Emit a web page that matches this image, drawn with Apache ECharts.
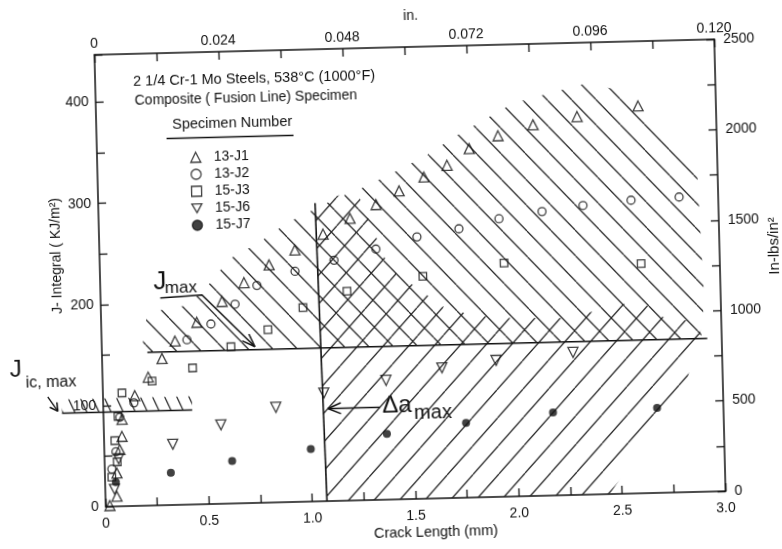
<!DOCTYPE html>
<html><head><meta charset="utf-8">
<script src="https://cdn.jsdelivr.net/npm/echarts@6.0.0/dist/echarts.min.js"></script>
<style>
html,body{margin:0;padding:0;background:#fff;overflow:hidden;width:782px;height:549px}
#chart{width:782px;height:549px;transform:rotate(-1.43deg);transform-origin:410px 273px}
</style></head>
<body><div id="chart"></div>
<script>
// ---- series values: [crack length (mm), J (kJ/m^2)] ----
const s13J1 = [[0.02,1],[0.055,10],[0.058,33],[0.075,56],[0.087,69],[0.089,86],[0.154,109],[0.221,127],[0.290,145],[0.355,162],[0.463,180],[0.587,200],[0.696,218],[0.819,235],[0.946,249],[1.084,264],[1.216,279],[1.344,292],[1.457,305],[1.579,318],[1.692,329],[1.801,345],[1.942,357],[2.113,367],[2.327,374],[2.623,383]];
const s13J2 = [[0.034,37],[0.056,54],[0.079,88],[0.149,102],[0.413,163],[0.531,178],[0.650,197],[0.758,215],[0.944,228],[1.134,238],[1.338,248],[1.538,259],[1.742,266],[1.937,275],[2.146,281],[2.345,286],[2.578,290],[2.811,292]];
const s15J3 = [[0.033,29],[0.061,44],[0.052,65],[0.070,89],[0.092,112],[0.239,123],[0.437,135],[0.625,155],[0.806,171],[0.978,192],[1.193,207],[1.562,220],[1.956,231],[2.619,227]];
const s15J6 = [[0.045,17],[0.068,47],[0.332,60],[0.567,78],[0.835,94],[1.069,107],[1.371,118],[1.643,129],[1.906,135],[2.279,141]];
const s15J7 = [[0.052,24],[0.319,32],[0.617,42],[0.999,52],[1.369,65],[1.753,74],[2.175,82],[2.679,84]];
const seriesNames = ['13-J1','13-J2','15-J3','15-J6','15-J7'];

// ---- tick labels ----
const mmLabels = ['0','0.5','1.0','1.5','2.0','2.5','3.0'];
const inLabels = ['0','0.024','0.048','0.072','0.096','0.120'];
const jLabels = ['0','100','200','300','400'];
const psiLabels = ['0','500','1000','1500','2000','2500'];

// ---- reference lines / annotations (data coords) ----
const jmaxLine = [[0.22,151.5],[2.93,151.5]];
const daMaxLine = [[1.071,0],[1.049,295]];
const jicLine = [[-0.20,93.5],[0.43,93.5]];
const jmaxPointer = [[0.289,205],[0.491,207],[0.741,154.5]];
const daArrow = [[1.338,91.5],[1.087,91.5]];
const jicArrow = [[-0.267,110],[-0.220,95.5]];

// ---- hatched regions (data coords) ----
const hatchUpper = [[0.20,151.5],[0.20,172],[0.23,191],[0.42,197],[0.55,222],[0.62,241],[0.77,257],[0.91,276],[1.15,299],[1.26,307],[1.43,323],[1.59,339],[1.74,358],[2.02,389],[2.38,407],[2.57,397],[2.90,323],[2.92,190],[2.90,151.5]];
const hatchLower = [[1.07,0],[1.049,295],[1.25,307],[1.40,229],[1.68,186],[1.90,177],[2.25,175],[2.61,191],[2.71,174],[2.91,167],[2.83,113],[2.44,0]];
const hatchJic = [[-0.20,94],[-0.20,107],[0.43,107],[0.43,94]];

const FONT = '"Liberation Sans", Arial, sans-serif';
const INK = '#111';
const INV_TRIANGLE = 'path://M0,0L10,0L5,8.66Z';

function makeHatch(w, h, dir, color, lw) {
  const c = document.createElement('canvas');
  c.width = w; c.height = h;
  const g = c.getContext('2d');
  g.strokeStyle = color; g.lineWidth = lw;
  for (const off of [-w, 0, w]) {
    g.beginPath();
    if (dir === 'back') { g.moveTo(off, 0); g.lineTo(off + w, h); }
    else { g.moveTo(off, h); g.lineTo(off + w, 0); }
    g.stroke();
  }
  return { image: c, repeat: 'repeat' };
}
const patBack = makeHatch(24, 26, 'back', '#262626', 1.25);
const patFwd = makeHatch(26, 28, 'fwd', '#262626', 1.25);
const patSteep = makeHatch(12, 27, 'back', '#262626', 1.25);

function labelFrom(list, step) {
  return function (v) {
    const k = Math.round(v / step);
    if (Math.abs(v - k * step) > step * 1e-3) return '';
    return list[k] !== undefined ? list[k] : '';
  };
}

const axisCommon = {
  type: 'value',
  axisLine: { show: true, onZero: false, lineStyle: { color: INK, width: 1.5 } },
  axisTick: { show: true, inside: true, length: 8, lineStyle: { color: INK, width: 1.3 } },
  splitLine: { show: false },
};
function lab(margin, fmt) {
  return { show: true, margin: margin, fontSize: 14, fontFamily: FONT, color: INK, formatter: fmt };
}

function renderHatch(params, api) {
  const mk = (pts, pat) => ({
    type: 'polygon', silent: true,
    shape: { points: pts.map(p => api.coord(p)) },
    style: { fill: pat, stroke: null, lineWidth: 0 }
  });
  return { type: 'group', children: [mk(hatchUpper, patBack), mk(hatchLower, patFwd), mk(hatchJic, patSteep)] };
}

function renderAnnot(params, api) {
  const children = [];
  const poly = (pts, w) => {
    const px = pts.map(p => api.coord(p));
    children.push({ type: 'polyline', silent: true, shape: { points: px }, style: { stroke: INK, lineWidth: w, fill: null } });
    return px;
  };
  const head = (px, len, spread) => {
    const a = px[px.length - 2], b = px[px.length - 1];
    const ang = Math.atan2(b[1] - a[1], b[0] - a[0]);
    for (const s of [-spread, spread]) {
      children.push({ type: 'line', silent: true, shape: { x1: b[0], y1: b[1], x2: b[0] - len * Math.cos(ang + s), y2: b[1] - len * Math.sin(ang + s) }, style: { stroke: INK, lineWidth: 1.5 } });
    }
  };
  poly(jmaxLine, 1.6);
  poly(daMaxLine, 1.6);
  poly(jicLine, 1.6);
  head(poly(jmaxPointer, 1.5), 14, 0.35);
  head(poly(daArrow, 1.4), 14, 0.4);
  head(poly(jicArrow, 1.3), 9, 0.5);
  return { type: 'group', children: children };
}

function scatter(name, data, symbol, size, filled) {
  return {
    type: 'scatter', name: name, data: data, symbol: symbol, symbolSize: size,
    xAxisIndex: 0, yAxisIndex: 0, z: 5, silent: true,
    itemStyle: filled ? { color: INK } : { color: 'rgba(0,0,0,0)', borderColor: INK, borderWidth: 1.3 },
    emphasis: { disabled: true }
  };
}

const txt = (x, y, text, size, align, rot) => ({
  type: 'text', x: x, y: y, rotation: rot || 0, silent: true,
  style: { text: text, font: size + 'px ' + FONT, fill: INK, textAlign: align || 'left', textVerticalAlign: 'middle' }
});

const chart = echarts.init(document.getElementById('chart'), null, { renderer: 'canvas' });
chart.setOption({
  animation: false,
  backgroundColor: '#fff',
  grid: { left: 100, right: 62, top: 47, bottom: 50, containLabel: false, outerBoundsMode: 'none' },
  xAxis: [
    Object.assign({}, axisCommon, { position: 'bottom', min: 0, max: 3, interval: 0.25, axisLabel: lab(10, labelFrom(mmLabels, 0.5)) }),
    Object.assign({}, axisCommon, { position: 'top', min: 0, max: 0.12, interval: 0.012, axisLabel: lab(4, labelFrom(inLabels, 0.024)) })
  ],
  yAxis: [
    Object.assign({}, axisCommon, { position: 'left', min: 0, max: 447, interval: 50, axisLabel: lab(7, labelFrom(jLabels, 100)) }),
    Object.assign({}, axisCommon, { position: 'right', min: 0, max: 2500, interval: 250, axisLabel: lab(9, labelFrom(psiLabels, 500)) })
  ],
  legend: {
    orient: 'vertical', left: 188, top: 140, itemWidth: 10, itemHeight: 10, itemGap: 3,
    selectedMode: false, data: seriesNames,
    itemStyle: { borderColor: INK, borderWidth: 1.3 },
    textStyle: { fontFamily: FONT, fontSize: 14, color: INK, lineHeight: 14, padding: [0, 0, 0, 8] }
  },
  graphic: [
    txt(138, 75, '2 1/4 Cr-1 Mo Steels, 538°C (1000°F)', 14.5),
    txt(139, 94, 'Composite ( Fusion Line) Specimen', 14),
    txt(176, 119, 'Specimen Number', 14.5),
    { type: 'line', silent: true, shape: { x1: 170, y1: 132.5, x2: 297, y2: 132.5 }, style: { stroke: INK, lineWidth: 1.3 } },
    txt(429.5, 532.5, 'Crack Length (mm)', 14.5, 'center'),
    txt(417, 16, 'in.', 14, 'center'),
    txt(57, 247, 'J- Integral ( KJ/m²)', 14, 'center', Math.PI / 2),
    txt(774.5, 255, 'In-lbs/in²', 15, 'center', Math.PI / 2),
    txt(159.8, 275.5, 'J', 26, 'center'),
    txt(180.6, 282.3, 'max', 17, 'center'),
    txt(393.7, 405.7, 'Δa', 24, 'center'),
    txt(429.5, 413.6, 'max', 20, 'center'),
    txt(13.6, 360, 'J', 24, 'center'),
    txt(48.3, 374, 'ic, max', 16, 'center')
  ],
  series: [
    { type: 'custom', name: 'hatch', renderItem: renderHatch, data: [[0, 0]], z: 1, silent: true, clip: false },
    { type: 'custom', name: 'annot', renderItem: renderAnnot, data: [[0, 0]], z: 3, silent: true, clip: false },
    scatter('13-J1', s13J1, 'triangle', 10, false),
    scatter('13-J2', s13J2, 'circle', 8, false),
    scatter('15-J3', s15J3, 'rect', 7.5, false),
    scatter('15-J6', s15J6, INV_TRIANGLE, 10, false),
    scatter('15-J7', s15J7, 'circle', 8, true)
  ]
});
</script>
</body></html>
